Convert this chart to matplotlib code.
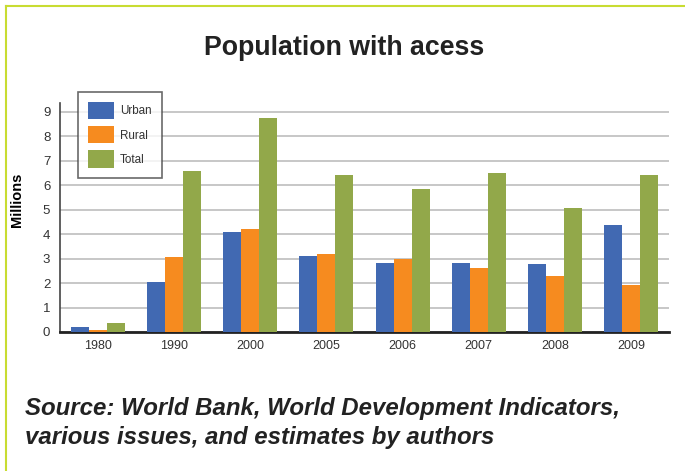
import numpy as np
import matplotlib
matplotlib.use("Agg")
import matplotlib.pyplot as plt
from matplotlib.lines import Line2D

years = ["1980", "1990", "2000", "2005", "2006", "2007", "2008", "2009"]
urban = [0.2, 2.05, 4.1, 3.12, 2.83, 2.83, 2.79, 4.38]
rural = [0.1, 3.08, 4.22, 3.2, 3.0, 2.63, 2.27, 1.9]
total = [0.35, 6.57, 8.72, 6.42, 5.85, 6.5, 5.07, 6.42]
series_names = ["Urban", "Rural", "Total"]
colors = ["#4169b2", "#f68b1f", "#92a84a"]

plt.rcParams["font.family"] = ["Liberation Sans", "DejaVu Sans"]

fig = plt.figure(figsize=(6.85, 4.71), dpi=100)
ax = fig.add_axes([60 / 685, 1 - 332 / 471, 609 / 685, 229 / 471])

x = np.arange(len(years))
w = 0.236
for k, (vals, name, c) in enumerate(zip([urban, rural, total], series_names, colors)):
    ax.bar(x + (k - 1) * w, vals, width=w, color=c, label=name, zorder=3)

ax.set_xlim(-0.5, len(years) - 0.5)
ax.set_ylim(0, 9.35)
ax.set_yticks(range(10))
ax.set_xticks(x)
ax.set_xticklabels(years)
ax.tick_params(length=0, labelsize=9, colors="#333333", pad=6)
ax.tick_params(axis="y", labelsize=9.5, pad=7)
ax.grid(axis="y", color="#bdbdbd", linewidth=1.2, zorder=0)
for s in ["top", "right"]:
    ax.spines[s].set_visible(False)
ax.spines["left"].set_color("#444444")
ax.spines["left"].set_linewidth(1.2)
ax.spines["bottom"].set_color("#222222")
ax.spines["bottom"].set_linewidth(2)
ax.set_ylabel("Millions", fontsize=10.5, fontweight="bold")
ax.yaxis.set_label_coords((24 - 60) / 609, (332 - 200) / 229)

leg = ax.legend(loc="upper left", bbox_to_anchor=(18 / 609, 1 + 11 / 229), fontsize=8.4,
                frameon=True, fancybox=False, handlelength=2.2, handleheight=1.9,
                labelspacing=0.6, borderpad=0.85, handletextpad=0.55,
                borderaxespad=0)
leg.get_frame().set_edgecolor("#444444")
leg.get_frame().set_linewidth(1.2)
for t in leg.get_texts():
    t.set_color("#333333")

fig.text(0.503, 1 - 48 / 471, "Population with acess", ha="center", va="center",
         fontsize=19.3, fontweight="bold", color="#222222")
fig.text(25 / 685, 1 - 423 / 471,
         "Source: World Bank, World Development Indicators,\nvarious issues, and estimates by authors",
         ha="left", va="center", fontsize=17.3, fontweight="bold", style="italic",
         color="#222222", linespacing=1.32)

border = "#c8dc32"
fig.add_artist(Line2D([6 / 685, 6 / 685], [0, 1 - 6 / 471], color=border, lw=1.5,
                      transform=fig.transFigure))
fig.add_artist(Line2D([6 / 685, 1], [1 - 6 / 471, 1 - 6 / 471], color=border, lw=1.5,
                      transform=fig.transFigure))

fig.savefig("out.png", dpi=100)
